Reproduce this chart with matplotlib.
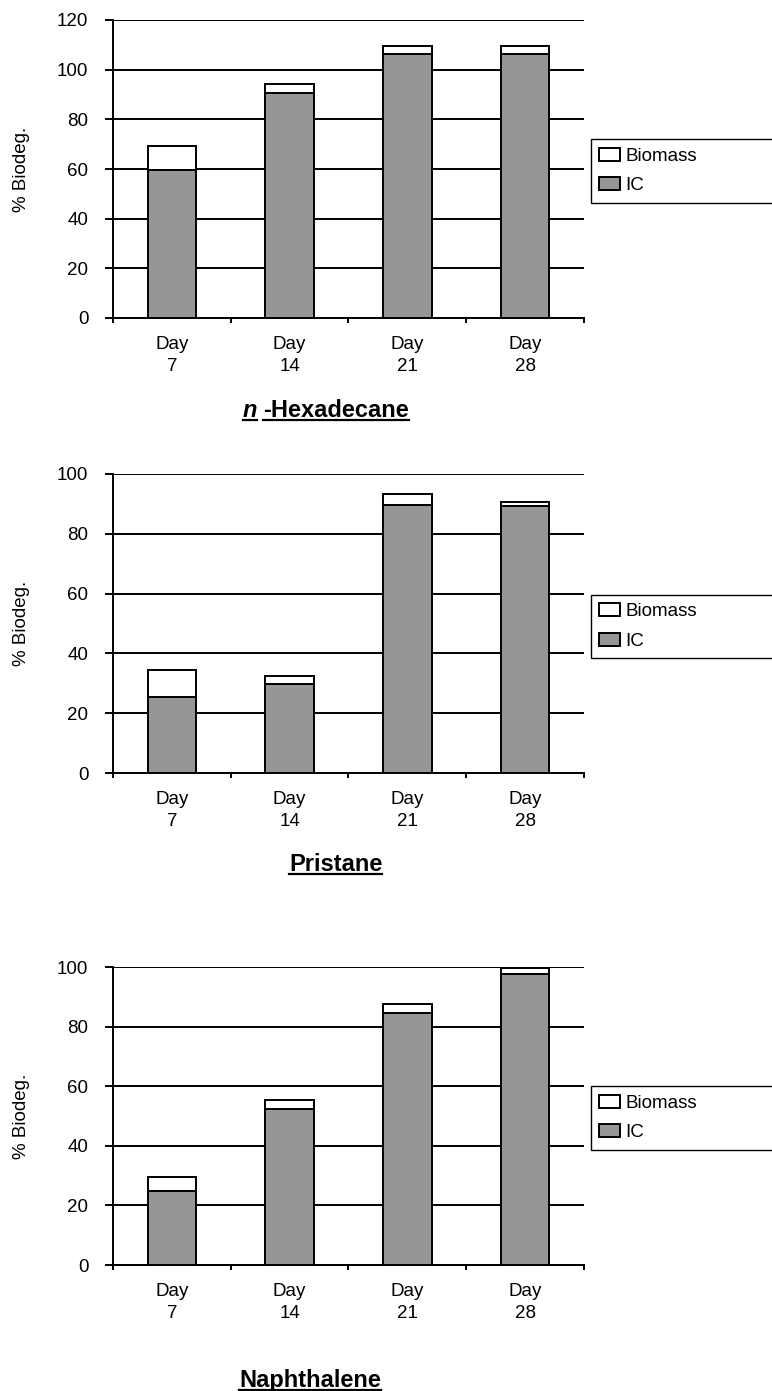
import matplotlib.pyplot as plt
import numpy as np
from matplotlib.lines import Line2D

plt.rcParams['font.family'] = ['Liberation Sans', 'DejaVu Sans']

days = ['Day\n7', 'Day\n14', 'Day\n21', 'Day\n28']

hexadecane_ic = [59.5, 90.7, 106.2, 106.2]
hexadecane_biomass = [9.8, 3.4, 3.2, 3.2]

pristane_ic = [25.5, 29.6, 89.7, 89.4]
pristane_biomass = [8.9, 2.7, 3.7, 1.3]

naphthalene_ic = [24.9, 52.5, 84.7, 97.6]
naphthalene_biomass = [4.7, 2.8, 2.8, 2.0]

W, H = 772, 1391
GRAY = '#969696'
LW = 1.4
FS = 13.5

fig = plt.figure(figsize=(W / 100, H / 100), dpi=100)


def fx(px):
    return px / W


def fy(py):
    return 1 - py / H


def plot_panel(top, bottom, ic, biomass, ymax, leg_top, leg_bottom):
    ax = fig.add_axes([fx(113), fy(bottom), (584 - 113) / W, (bottom - top) / H])
    x = np.arange(len(days))
    ax.bar(x, ic, width=0.41, color=GRAY, edgecolor='black', linewidth=LW,
           label='IC', zorder=3)
    ax.bar(x, biomass, width=0.41, bottom=ic, color='white', edgecolor='black',
           linewidth=LW, label='Biomass', zorder=3)

    ax.set_xlim(-0.5, len(days) - 0.5)
    ax.set_ylim(0, ymax)
    ax.set_yticks(np.arange(0, ymax + 1, 20))
    ax.set_xticks(x)
    ax.set_xticklabels(days, linespacing=1.4)
    ax.set_xticks(np.arange(-0.5, len(days), 1), minor=True)

    ax.yaxis.grid(True, color='black', linewidth=LW)
    ax.set_axisbelow(True)
    for side in ['top', 'right']:
        ax.spines[side].set_visible(False)
    for side in ['left', 'bottom']:
        ax.spines[side].set_linewidth(LW)

    ax.tick_params(axis='y', direction='out', length=5.8, width=LW,
                   labelsize=FS, pad=12)
    ax.tick_params(axis='x', which='major', length=0, labelsize=FS, pad=13)
    ax.tick_params(axis='x', which='minor', direction='out', length=3.6, width=LW)

    fig.text(fx(21), fy((top + bottom) / 2), '% Biodeg.', rotation=90,
             ha='center', va='center', fontsize=FS)

    handles, labels = ax.get_legend_handles_labels()
    leg = ax.legend(handles[::-1], labels[::-1], loc='center left',
                    bbox_to_anchor=(fx(591), fy(leg_bottom), (900 - 591) / W,
                                    (leg_bottom - leg_top) / H),
                    bbox_transform=fig.transFigure, mode='expand', fontsize=FS,
                    fancybox=False, framealpha=1, edgecolor='black',
                    borderpad=0.45, labelspacing=0.66, handlelength=1.07,
                    handleheight=0.69, handletextpad=0.3, borderaxespad=0)
    leg.get_frame().set_linewidth(1.0)
    return ax


plot_panel(20, 318, hexadecane_ic, hexadecane_biomass, 120, 140, 202)
plot_panel(474, 773, pristane_ic, pristane_biomass, 100, 596, 657)
plot_panel(967, 1265, naphthalene_ic, naphthalene_biomass, 100, 1087, 1149)

# titles, underlined by hand
titles = [
    (243, 417, 'n', 'italic'),
    (263, 417, '-Hexadecane', 'normal'),
    (289, 871, 'Pristane', 'normal'),
    (239, 1387, 'Naphthalene', 'normal'),
]
texts = []
for x, y, s, style in titles:
    t = fig.text(fx(x), fy(y), s, ha='left', va='baseline', fontsize=17,
                 fontweight='bold', fontstyle=style)
    texts.append((t, y))

fig.canvas.draw()
renderer = fig.canvas.get_renderer()
inv = fig.transFigure.inverted()
for t, y in texts:
    bb = t.get_window_extent(renderer)
    x0 = inv.transform((bb.x0, 0))[0]
    x1 = inv.transform((bb.x1, 0))[0]
    fig.add_artist(Line2D([x0, x1], [fy(y + 3), fy(y + 3)],
                          transform=fig.transFigure, color='black', linewidth=1.6))

fig.savefig('out.png', dpi=100)
